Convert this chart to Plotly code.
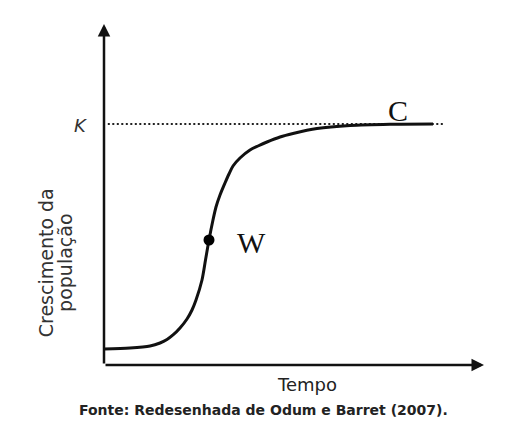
import plotly.graph_objects as go

# Logistic growth curve (time in %, population in % of axis height)
tempo = [0, 6.84, 12.11, 14.74, 16.58, 18.16, 20.0, 21.84, 23.16, 24.21, 25.79,
         26.71, 27.63, 28.68, 29.47, 30.53, 31.84, 32.89, 33.95, 35.79, 38.42,
         40.53, 42.89, 46.32, 49.74, 56.05, 64.74, 75.26, 86.58]
populacao = [4.69, 4.99, 5.57, 6.45, 7.48, 8.80, 10.85, 13.49, 16.13, 19.06, 24.93,
             30.79, 36.66, 42.52, 46.33, 49.85, 53.37, 56.01, 58.36, 60.70, 63.05,
             64.22, 65.40, 66.86, 67.89, 69.35, 70.23, 70.59, 70.67]
K_level = 70.67
k_line_tempo = [1.0, 89.7]
w_tempo, w_pop = 27.63, 36.66

fig = go.Figure()

# carrying capacity dotted line
fig.add_trace(go.Scatter(
    x=k_line_tempo, y=[K_level, K_level], mode="lines",
    line=dict(color="#222", width=2, dash="2px,2.5px"), hoverinfo="skip"))

# growth curve
fig.add_trace(go.Scatter(
    x=tempo, y=populacao, mode="lines",
    line=dict(color="#111", width=3, shape="spline", smoothing=0.8),
    hoverinfo="skip"))

# inflection point W
fig.add_trace(go.Scatter(
    x=[w_tempo], y=[w_pop], mode="markers",
    marker=dict(color="#000", size=11), hoverinfo="skip"))

ann = []
# axes with arrow heads
ann.append(dict(x=100, y=0, ax=0, ay=0, xref="x", yref="y", axref="x", ayref="y",
                text="", showarrow=True, arrowhead=2, arrowsize=1,
                arrowwidth=2.5, arrowcolor="#111"))
ann.append(dict(x=0, y=100, ax=0, ay=0, xref="x", yref="y", axref="x", ayref="y",
                text="", showarrow=True, arrowhead=2, arrowsize=1,
                arrowwidth=2.5, arrowcolor="#111"))

sans = "DejaVu Sans"
serif = "Liberation Serif"

def paper_text(x, y, text, font, angle=0):
    return dict(x=x, y=y, xref="paper", yref="paper", text=text, textangle=angle,
                showarrow=False, font=font, xanchor="center", yanchor="middle")

ann.append(paper_text(-0.063, 0.701, "<i>K</i>",
                      dict(family=sans, size=18, color="#333")))
ann.append(dict(x=77.4, y=74.5, xref="x", yref="y", text="C",
                showarrow=False, font=dict(family=serif, size=30, color="#111"),
                xanchor="center", yanchor="middle"))
ann.append(dict(x=38.9, y=35.8, xref="x", yref="y", text="W",
                showarrow=False, font=dict(family=serif, size=30, color="#111"),
                xanchor="center", yanchor="middle"))
ann.append(paper_text(0.534, -0.056, "Tempo",
                      dict(family=sans, size=18, color="#222")))
ann.append(paper_text(-0.152, 0.299, "Crescimento da",
                      dict(family=sans, size=19, color="#333"), -90))
ann.append(paper_text(-0.103, 0.299, "população",
                      dict(family=sans, size=19, color="#333"), -90))
ann.append(paper_text(0.421, -0.132,
                      "<b>Fonte: Redesenhada de Odum e Barret (2007).</b>",
                      dict(family=sans, size=14, color="#222")))

fig.update_layout(
    width=507, height=442,
    margin=dict(l=104, r=23, t=24, b=77),
    paper_bgcolor="white", plot_bgcolor="white",
    showlegend=False,
    xaxis=dict(range=[0, 100], visible=False, fixedrange=True),
    yaxis=dict(range=[0, 100], visible=False, fixedrange=True),
    annotations=ann,
)

fig.write_html("out.html", config={"displayModeBar": False},
               post_script="document.body.style.margin='0';document.body.style.padding='0';")
